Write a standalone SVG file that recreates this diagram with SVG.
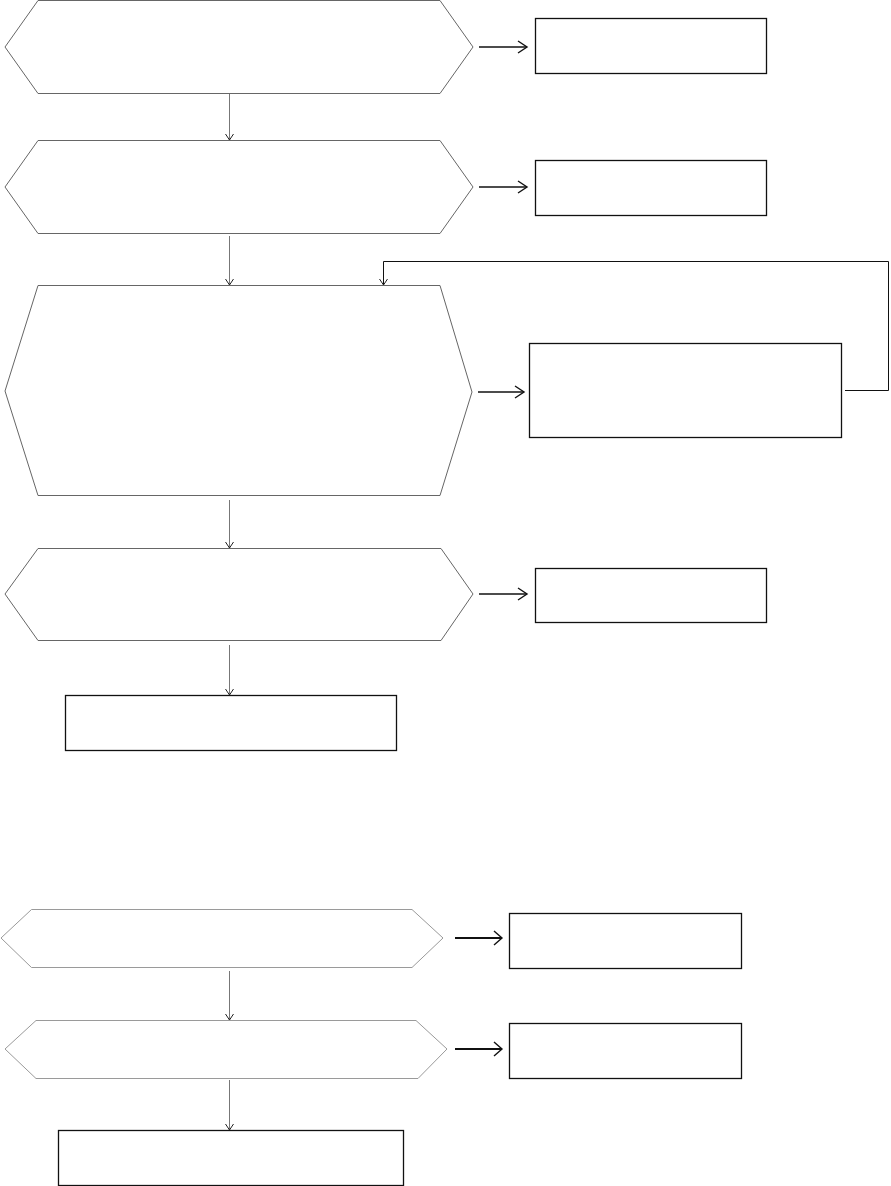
<svg xmlns="http://www.w3.org/2000/svg" width="891" height="1186" viewBox="0 0 891 1186">
<style>
.hex{fill:#fff;stroke:#666;stroke-width:1}
.hexl{fill:#fff;stroke:#9a9a9a;stroke-width:1}
.box{fill:#fff;stroke:#111;stroke-width:1.3}
.down{fill:none;stroke:#777;stroke-width:1;marker-end:url(#ah)}
.right{fill:none;stroke:#111;stroke-width:1.5;marker-end:url(#ahr)}
.rightb{fill:none;stroke:#111;stroke-width:2.2;marker-end:url(#ahr2)}
.fb{fill:none;stroke:#111;stroke-width:1}
</style>
<defs>
<marker id="ah" markerWidth="10" markerHeight="10" refX="8" refY="5" orient="auto" markerUnits="userSpaceOnUse">
<path d="M2,1 L8,5 L2,9" fill="none" stroke="#222" stroke-width="1"/>
</marker>
<marker id="ahr" markerWidth="14" markerHeight="14" refX="12" refY="7" orient="auto" markerUnits="userSpaceOnUse">
<path d="M3,1 L12,7 L3,13" fill="none" stroke="#111" stroke-width="1.4"/>
</marker>
<marker id="ahr2" markerWidth="14" markerHeight="16" refX="12" refY="8" orient="auto" markerUnits="userSpaceOnUse">
<path d="M4,1 L12,8 L4,15" fill="none" stroke="#111" stroke-width="1.4"/>
</marker>
</defs>
<g id="n1"><polygon class="hex" points="38,0.5 440,0.5 473,47 440,93.5 38,93.5 5,47"/></g>
<g id="n1r"><rect class="box" x="535.5" y="18.5" width="231" height="55"/></g>
<g id="n2"><polygon class="hex" points="38,140.5 440,140.5 473,187 440,233.5 38,233.5 5,187"/></g>
<g id="n2r"><rect class="box" x="535.5" y="160.5" width="231" height="55"/></g>
<g id="n3"><polygon class="hex" points="38,285.5 440,285.5 472,392 440,495.5 38,495.5 5,391"/></g>
<g id="n3r"><rect class="box" x="529.5" y="343.5" width="312" height="94"/></g>
<g id="n4"><polygon class="hex" points="38,548.5 441,548.5 473,594 441,640.5 38,640.5 5,594"/></g>
<g id="n4r"><rect class="box" x="535.5" y="568.5" width="231" height="54"/></g>
<g id="n5"><rect class="box" x="65.5" y="695.5" width="331" height="55"/></g>
<g id="n6"><polygon class="hexl" points="31.5,909.5 412,909.5 443,938 412,967.5 31.5,967.5 1,938"/></g>
<g id="n6r"><rect class="box" x="509.5" y="913.5" width="232" height="55"/></g>
<g id="n7"><polygon class="hexl" points="36,1020.5 416,1020.5 447,1049 418,1078.5 36,1078.5 5,1049"/></g>
<g id="n7r"><rect class="box" x="509.5" y="1023.5" width="232" height="55"/></g>
<g id="n8"><rect class="box" x="58.5" y="1130.5" width="345" height="55"/></g>
<g id="connectors">
<line class="down" x1="229.5" y1="94" x2="229.5" y2="140"/>
<line class="down" x1="229.5" y1="236" x2="229.5" y2="285"/>
<line class="down" x1="229.5" y1="500" x2="229.5" y2="548"/>
<line class="down" x1="229.5" y1="645" x2="229.5" y2="695"/>
<line class="down" x1="229.5" y1="971" x2="229.5" y2="1020"/>
<line class="down" x1="229.5" y1="1080" x2="229.5" y2="1130"/>
<line class="right" x1="479" y1="47" x2="527" y2="47"/>
<line class="right" x1="479" y1="187" x2="527" y2="187"/>
<line class="right" x1="478" y1="392" x2="524" y2="392"/>
<line class="right" x1="479" y1="594" x2="527" y2="594"/>
<line class="rightb" x1="455" y1="938" x2="502" y2="938"/>
<line class="rightb" x1="455" y1="1049" x2="502" y2="1049"/>
<polyline class="fb" points="845,390.5 888.5,390.5 888.5,261.5 383.5,261.5 383.5,285" marker-end="url(#ah)"/>
</g>
</svg>
